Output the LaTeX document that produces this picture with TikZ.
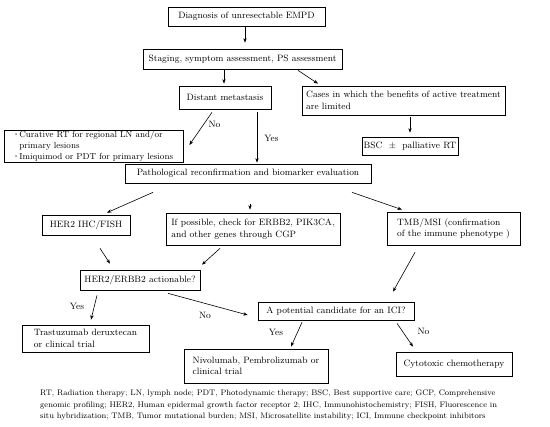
\documentclass[tikz,border=0pt]{standalone}
\usetikzlibrary{arrows.meta}
\newcommand{\mainfs}{\fontsize{9.2}{11.5}\selectfont}
\newcommand{\smallfs}{\fontsize{8.8}{11}\selectfont}
\newcommand{\notefs}{\fontsize{8.05}{11.2}\selectfont}
\newcommand{\dotb}{\makebox[5.5pt][l]{\raisebox{1.6pt}{\fontsize{4.5}{5}\selectfont\textbullet}}}
\begin{document}
\begin{tikzpicture}[x=1pt,y=-1pt,
  box/.style={draw, line width=0.7pt, inner sep=0pt, font=\mainfs, align=left},
  arr/.style={-{Stealth[length=4.5pt,width=3.4pt]}, line width=0.6pt},
  lbl/.style={font=\mainfs, inner sep=0pt}]
\useasboundingbox (0,0) rectangle (550,427);
\fill[white] (0,0) rectangle (550,427);
% boxes
\node[box, minimum width=157, minimum height=19] (diag) at (246.5,16.5) {Diagnosis of unresectable EMPD};
\node[box, minimum width=199, minimum height=20] (stage) at (242.5,59) {Staging, symptom assessment, PS assessment};
\node[box, minimum width=92, minimum height=23] (dist) at (225,97.5) {Distant metastasis};
\node[box, minimum width=203, minimum height=29] (cases) at (403.5,100.5) {Cases in which the benefits of active treatment\\are limited};
\node[box, minimum width=96, minimum height=18] (bsc) at (410,146) {BSC \ $\pm$\ \ palliative RT};
\node[box, font=\smallfs, minimum width=179, minimum height=32] (cur) at (93.5,146) {\dotb Curative RT for regional LN and/or\\\phantom{\dotb}primary lesions\\\dotb Imiquimod or PDT for primary lesions};
\node[box, minimum width=246, minimum height=19] (path) at (248,173.5) {Pathological reconfirmation and biomarker evaluation};
\node[box, minimum width=88, minimum height=20] (her2) at (86,225) {HER2 IHC/FISH};
\node[box, minimum width=174, minimum height=32] (ifp) at (253,229) {If possible, check for ERBB2, PIK3CA,\\and other genes through CGP};
\node[box, minimum width=133, minimum height=33] (tmb) at (453.5,228.5) {TMB/MSI (confirmation\\of the immune phenotype )};
\node[box, minimum width=120, minimum height=20] (act) at (140,280) {HER2/ERBB2 actionable?};
\node[box, minimum width=156, minimum height=18] (ici) at (336,311) {A potential candidate for an ICI?};
\node[box, minimum width=127, minimum height=27] (tras) at (85.5,338.5) {Trastuzumab deruxtecan\\or clinical trial};
\node[box, minimum width=144, minimum height=34] (nivo) at (256,366) {Nivolumab, Pembrolizumab or\\clinical trial};
\node[box, minimum width=116, minimum height=24] (cyto) at (454,364) {Cytotoxic chemotherapy};
% connectors
\draw[arr] ([shift={(-1.5,1)}]diag.south) -- ([shift={(2.5,-6)}]stage.north);
\draw[arr] ([shift={(-18.5,1)}]stage.south) -- ([shift={(-1,-2)}]dist.north);
\draw[arr] ([shift={(55.5,1)}]stage.south) -- ([shift={(-85.5,-2)}]cases.north);
\draw[arr] ([shift={(6.5,2)}]cases.south) -- ([shift={(0,-4)}]bsc.north);
\draw[arr] ([shift={(-13,3)}]dist.south) -- ([shift={(6,-1)}]cur.east);
\draw[arr] ([shift={(32,3)}]dist.south) -- ([shift={(9,-1)}]path.north);
\draw[arr] ([shift={(-95,9)}]path.south) -- ([shift={(21,-2)}]her2.north);
\draw[arr] ([shift={(2,21)}]path.south) -- ([shift={(-3,-3)}]ifp.north);
\draw[arr] ([shift={(104,9)}]path.south) -- ([shift={(-51.5,-2)}]tmb.north);
\draw[arr] ([shift={(14,13)}]her2.south) -- ([shift={(-30,-6)}]act.north);
\draw[arr] ([shift={(-33,3)}]ifp.south) -- ([shift={(62,-5)}]act.north);
\draw[arr] ([shift={(-38.5,7)}]tmb.south) -- ([shift={(57,-10)}]ici.north);
\draw[arr] ([shift={(-43,5)}]act.south) -- ([shift={(5.5,-5)}]tras.north);
\draw[arr] ([shift={(28,3)}]act.south) -- ([shift={(-10,4)}]ici.west);
\draw[arr] ([shift={(-34,2)}]ici.south) -- ([shift={(35,-2)}]nivo.north);
\draw[arr] ([shift={(61,3)}]ici.south) -- ([shift={(-41,-5)}]cyto.north);
% labels
\node[lbl] (no1) at (214.5,124) {No};
\node[lbl] (yes1) at (271.5,138) {Yes};
\node[lbl] (yes2) at (77,306) {Yes};
\node[lbl] (no2) at (205,315) {No};
\node[lbl] (yes3) at (276,332) {Yes};
\node[lbl] (no3) at (423.5,331.5) {No};
% footnote
\node[anchor=north west, align=left, font=\notefs, inner sep=0pt] (note) at (40,390) {RT, Radiation therapy; LN, lymph node; PDT, Photodynamic therapy; BSC, Best supportive care; GCP, Comprehensive\\genomic profiling; HER2, Human epidermal growth factor receptor 2; IHC, Immunohistochemistry; FISH, Fluorescence in\\situ hybridization; TMB, Tumor mutational burden; MSI, Microsatellite instability; ICI, Immune checkpoint inhibitors};
\end{tikzpicture}
\end{document}
